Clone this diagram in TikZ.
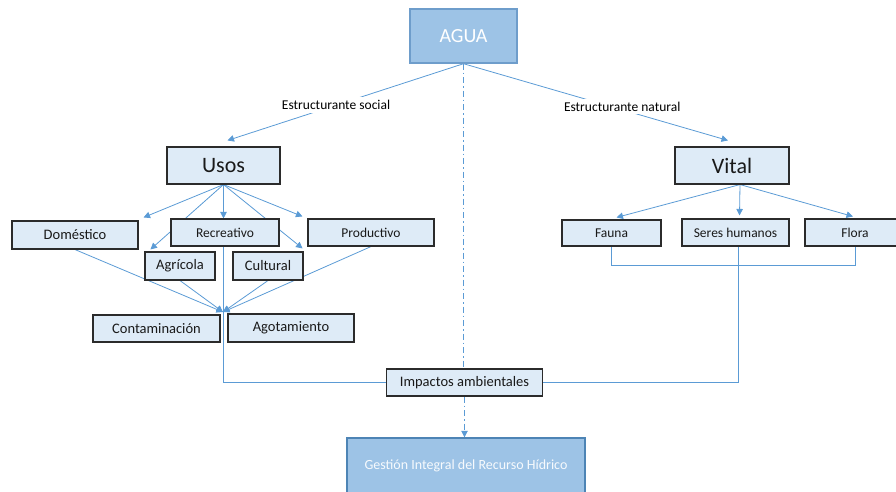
\documentclass[tikz,border=0pt]{standalone}
\usepackage{fontspec}
\setmainfont{Carlito}
\usetikzlibrary{arrows.meta,calc,backgrounds}
\definecolor{lnk}{HTML}{5B9BD5}
\definecolor{pale}{HTML}{DEEBF7}
\definecolor{mid}{HTML}{9DC3E6}
\definecolor{midedge}{HTML}{6E9DCB}
\definecolor{ink}{HTML}{2B2B2B}
\begin{document}
\begin{tikzpicture}[x=1pt,y=-1pt,
  box/.style={draw=ink, line width=1.1pt, fill=pale, inner sep=0pt, text=black!90},
  bigbox/.style={draw=midedge, line width=1.4pt, fill=mid, inner sep=0pt, text=white},
  link/.style={draw=lnk, line width=0.8pt},
  arr/.style={link, -{Triangle[length=6.5pt,width=6.5pt]}},
  dd/.style={link, dash pattern=on 6pt off 3pt on 1.5pt off 3pt},
  lbl/.style={fill=white, inner sep=3pt, font=\fontsize{13.5}{16}\selectfont},
  fbig/.style={font=\fontsize{22}{26}\selectfont},
  fmid/.style={font=\fontsize{14.5}{17}\selectfont},
  fsm/.style={font=\fontsize{13.5}{16}\selectfont}]
\useasboundingbox (0,0) rectangle (896,491);

% top and bottom boxes
\node[bigbox, minimum width=107pt, minimum height=54pt, font=\fontsize{20}{24}\selectfont] (agua) at (463.5,36) {AGUA};
\node[bigbox, draw=lnk!85!black, minimum width=238pt, minimum height=56pt, font=\fontsize{14}{17}\selectfont, text=white!92!mid] (ges) at (466,466) {Gestión Integral del Recurso Hídrico};

% main branches
\node[box, fbig, minimum width=113pt, minimum height=37pt] (usos) at (223.5,165.5) {Usos};
\node[box, fbig, minimum width=114pt, minimum height=37pt] (vit) at (732,165.5) {Vital};

% uses
\node[box, fmid, minimum width=126pt, minimum height=28pt] (dom) at (75,235) {Doméstico};
\node[box, fsm, minimum width=108pt, minimum height=27pt] (rec) at (225,232.5) {Recreativo};
\node[box, fsm, minimum width=126pt, minimum height=27pt] (pro) at (371,232.5) {Productivo};
\node[box, fmid, minimum width=70pt, minimum height=28pt] (agr) at (180,266) {Agrícola};
\node[box, fmid, minimum width=70pt, minimum height=28pt] (cul) at (268,266) {Cultural};
\node[box, fmid, minimum width=127pt, minimum height=27pt] (con) at (156.5,328.5) {Contaminación};
\node[box, fmid, minimum width=126pt, minimum height=28pt] (ago) at (291,328) {Agotamiento};

% living
\node[box, fsm, minimum width=99pt, minimum height=26pt] (fau) at (611.5,233) {Fauna};
\node[box, fsm, minimum width=107pt, minimum height=27pt] (ser) at (735.5,232.5) {Seres humanos};
\node[box, fsm, minimum width=100pt, minimum height=27pt] (flo) at (855,232.5) {Flora};

% impacts
\node[box, fmid, minimum width=156pt, minimum height=27pt] (imp) at (464.5,382.5) {Impactos ambientales};

\coordinate (conv) at (223,312);

\begin{pgfonlayer}{background}
  % structuring links
  \draw[arr] (agua.south) -- node[lbl, pos=0.54] {Estructurante social} ($(usos.north)+(4,-6)$);
  \draw[arr] (agua.south) -- node[lbl, pos=0.6, yshift=3pt] {Estructurante natural} ($(vit.north)+(-4,-6)$);

  % central dash-dot axis
  \draw[dd] (agua.south) -- (agua.south |- imp.north);
  \draw[dd, -{Triangle[length=6.5pt,width=6.5pt]}] (imp.south) -- (imp.south |- ges.north);

  % uses
  \draw[arr] (usos.south) -- ($(dom.north east)+(5,-3)$);
  \draw[arr] (usos.south) -- ($(agr.north west)+(6,-2)$);
  \draw[arr] (usos.south) -- (usos.south |- rec.north);
  \draw[arr] (usos.south) -- ($(cul.north east)+(-1,-3)$);
  \draw[arr] (usos.south) -- ($(pro.north west)+(-5,-2)$);

  % towards contamination / depletion
  \draw[arr] (dom.south) -- (conv);
  \draw[arr] (agr.south) -- (conv);
  \draw[arr] (cul.south) -- (conv);
  \draw[arr] (pro.south) -- (conv);
  \draw[link] (usos.south |- rec.south) |- (imp.west);

  % living
  \draw[arr] ($(vit.south)+(8,0)$) -- ($(fau.north)+(5,-2)$);
  \draw[arr] ($(vit.south)+(8,0)$) -- ($(ser.north)+(4,-3)$);
  \draw[arr] ($(vit.south)+(8,0)$) -- ($(flo.north)+(-2,-2)$);
  \draw[link] (fau.south) -- ++(0,19) -| (flo.south);
  \draw[link] ($(ser.south)+(3,0)$) |- (imp.east);
\end{pgfonlayer}
\end{tikzpicture}
\end{document}
